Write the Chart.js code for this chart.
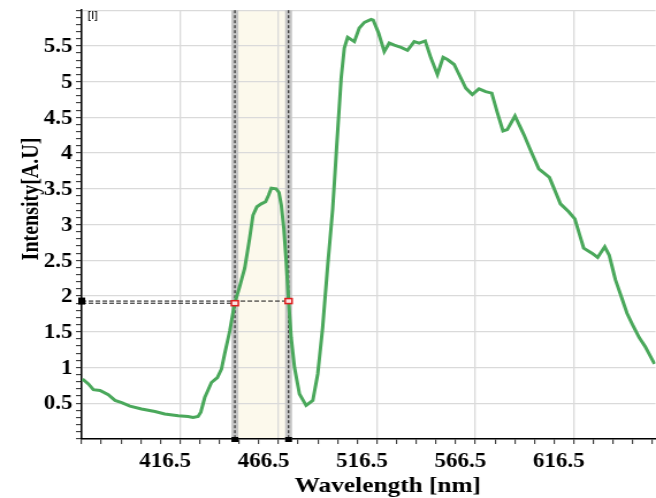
<!DOCTYPE html>
<html>
<head>
<meta charset="utf-8">
<script src="https://cdn.jsdelivr.net/npm/chart.js@4.4.1/dist/chart.umd.min.js"></script>
<style>
    html, body { margin: 0; padding: 0; background: #fff; overflow: hidden; }
    /* the source picture is stretched sideways, so the chart is drawn narrow and widened */
    #wrap { width: 570px; height: 498px; transform: scaleX(1.1509); transform-origin: 0 0; }
</style>
</head>
<body>
<div id="wrap"><canvas id="spectrumChart" width="570" height="498"></canvas></div>
<script>
// Spectrum
const wavelength = [366.9, 369.9, 372.4, 375.8, 380.0, 383.4, 386.8, 391.0, 396.9, 403.7,
    408.7, 415.5, 420.5, 423.1, 425.6, 427.0, 429.0, 432.4, 435.4, 437.5,
    439.1, 441.7, 444.2, 446.7, 449.3, 451.8, 453.5, 455.5, 457.7, 459.9,
    461.4, 462.8, 465.3, 466.7, 467.9, 469.2, 470.4, 471.6, 472.9, 474.6,
    477.1, 480.5, 483.9, 486.4, 488.9, 491.5, 494.0, 495.2, 496.1, 498.3,
    499.9, 501.6, 505.0, 507.5, 510.1, 513.5, 514.6, 517.3, 520.2, 522.7,
    525.3, 528.7, 532.0, 535.4, 537.9, 541.0, 543.9, 547.2, 550.1, 552.3,
    555.7, 558.2, 561.6, 564.9, 568.3, 571.7, 574.8, 577.6, 580.5, 582.7,
    586.6, 591.1, 595.0, 598.7, 604.1, 609.7, 613.9, 617.0, 621.5, 625.7,
    628.6, 632.2, 634.5, 637.6, 640.9, 643.5, 646.3, 649.7, 652.8, 657.5];
const intensity = [0.84, 0.77, 0.69, 0.68, 0.62, 0.54, 0.51, 0.46, 0.42, 0.385,
    0.35, 0.325, 0.315, 0.30, 0.315, 0.375, 0.58, 0.79, 0.86, 0.98,
    1.19, 1.51, 1.90, 2.13, 2.39, 2.81, 3.13, 3.25, 3.29, 3.32,
    3.41, 3.51, 3.50, 3.45, 3.27, 2.94, 2.48, 1.93, 1.42, 1.00,
    0.63, 0.47, 0.54, 0.91, 1.56, 2.44, 3.22, 3.73, 4.13, 5.05,
    5.47, 5.62, 5.56, 5.75, 5.83, 5.87, 5.86, 5.68, 5.42, 5.54,
    5.51, 5.48, 5.44, 5.56, 5.54, 5.57, 5.33, 5.10, 5.34, 5.31,
    5.24, 5.10, 4.91, 4.82, 4.90, 4.86, 4.84, 4.57, 4.31, 4.33,
    4.52, 4.26, 4.01, 3.78, 3.66, 3.29, 3.18, 3.08, 2.67, 2.60,
    2.54, 2.69, 2.57, 2.23, 1.97, 1.76, 1.60, 1.42, 1.29, 1.05];

// Axis ticks: minor every 10 nm / 0.1, labels on the majors
const xTicks = [366.5, 376.5, 386.5, 396.5, 406.5, 416.5, 426.5, 436.5, 446.5, 456.5,
    466.5, 476.5, 486.5, 496.5, 506.5, 516.5, 526.5, 536.5, 546.5, 556.5,
    566.5, 576.5, 586.5, 596.5, 606.5, 616.5, 626.5, 636.5, 646.5, 656.5];
const xLabels = [416.5, 466.5, 516.5, 566.5, 616.5];
const yTicks = [];
for (let k = 0; k <= 60; k++) yTicks.push(k / 10);
const yLabels = [0.5, 1, 1.5, 2, 2.5, 3, 3.5, 4, 4.5, 5, 5.5];

// Cursors and their crossing levels
const cursorLeft = 444.3;
const cursorRight = 471.6;
const levelLeft = 1.90;
const levelRight = 1.93;

const LABEL_FONT = "bold 20px 'Liberation Serif', 'Times New Roman', serif";
const TITLE_FONT = "bold 22px 'Liberation Serif', 'Times New Roman', serif";

const isXMajor = v => Math.abs(((v - 366.5) / 10) % 5) < 0.01;
const isYMajor = v => Math.abs((v * 10) % 5) < 0.01;

const cursorPlugin = {
    id: 'cursors',
    beforeDraw(chart) {
        const { ctx, chartArea: a, scales: { x } } = chart;
        const xl = x.getPixelForValue(cursorLeft);
        const xr = x.getPixelForValue(cursorRight);
        ctx.save();
        ctx.fillStyle = '#fcf9ec';
        ctx.fillRect(xl, a.top, xr - xl, a.bottom - a.top);
        ctx.restore();
    },
    beforeDatasetsDraw(chart) {
        const { ctx, chartArea: a, scales: { x, y } } = chart;
        const xl = x.getPixelForValue(cursorLeft);
        const xr = x.getPixelForValue(cursorRight);
        ctx.save();
        // gray bands with dashed centre lines
        [xl, xr].forEach(px => {
            ctx.fillStyle = '#c6c6c6';
            ctx.fillRect(px - 3, a.top, 6, a.bottom - a.top);
            ctx.strokeStyle = '#111';
            ctx.lineWidth = 1;
            ctx.setLineDash([3, 2]);
            ctx.beginPath();
            ctx.moveTo(px, a.top);
            ctx.lineTo(px, a.bottom);
            ctx.stroke();
        });
        // horizontal level lines
        ctx.setLineDash([4, 2]);
        ctx.beginPath();
        ctx.moveTo(a.left, y.getPixelForValue(levelRight));
        ctx.lineTo(xr, y.getPixelForValue(levelRight));
        ctx.moveTo(a.left, y.getPixelForValue(levelLeft));
        ctx.lineTo(xl, y.getPixelForValue(levelLeft));
        ctx.stroke();
        ctx.restore();
    },
    afterDatasetsDraw(chart) {
        const { ctx, chartArea: a, scales: { x, y } } = chart;
        const xl = x.getPixelForValue(cursorLeft);
        const xr = x.getPixelForValue(cursorRight);
        ctx.save();
        // red crossing markers
        ctx.fillStyle = '#fbe4e4';
        ctx.strokeStyle = '#dd1f1f';
        ctx.lineWidth = 1.5;
        [[xl, levelLeft], [xr, levelRight]].forEach(([px, v]) => {
            const py = y.getPixelForValue(v);
            ctx.fillRect(px - 3, py - 2.5, 6, 5);
            ctx.strokeRect(px - 3, py - 2.5, 6, 5);
        });
        // black handles on the axes
        ctx.fillStyle = '#000';
        ctx.fillRect(a.left - 3, y.getPixelForValue(levelRight) - 3.5, 6, 7);
        [xl, xr].forEach(px => ctx.fillRect(px - 3, a.bottom - 2, 6, 5));
        ctx.restore();
    },
    afterDraw(chart) {
        const { ctx, chartArea: a, scales: { x, y } } = chart;
        ctx.save();
        ctx.fillStyle = '#000';
        ctx.font = "11px 'Liberation Sans', Arial, sans-serif";
        ctx.textAlign = 'left';
        ctx.textBaseline = 'alphabetic';
        ctx.fillText('[I]', 76, 19);

        // tick labels (serif bold, placed by the scales; the source sets them a bit left of the tick)
        ctx.font = LABEL_FONT;
        ctx.textAlign = 'center';
        xLabels.forEach(v => ctx.fillText(v.toFixed(1), x.getPixelForValue(v) - 13, 467));
        ctx.textAlign = 'right';
        ctx.textBaseline = 'middle';
        yLabels.forEach(v => ctx.fillText(String(v), a.left - 8, y.getPixelForValue(v) + 1));

        ctx.textBaseline = 'alphabetic';
        ctx.textAlign = 'left';
        ctx.font = TITLE_FONT;
        ctx.fillText('Wavelength [nm]', 256, 492);

        ctx.font = LABEL_FONT;
        ctx.translate(33, 199);
        ctx.rotate(-Math.PI / 2);
        ctx.textAlign = 'center';
        ctx.fillText('Intensity[A.U]', 0, 0);
        ctx.restore();
    }
};

const ctx = document.getElementById('spectrumChart');
new Chart(ctx, {
    type: 'line',
    data: {
        datasets: [{
            data: wavelength.map((w, i) => ({ x: w, y: intensity[i] })),
            borderColor: '#4aa85b',
            borderWidth: 3,
            pointRadius: 0,
            tension: 0,
            fill: false
        }]
    },
    options: {
        responsive: false,
        animation: false,
        devicePixelRatio: 1,
        layout: { padding: { top: 7, right: 0, left: 0, bottom: 0 } },
        plugins: { legend: { display: false }, tooltip: { enabled: false } },
        scales: {
            x: {
                type: 'linear',
                min: 366.5,
                max: 658,
                afterBuildTicks: scale => { scale.ticks = xTicks.map(v => ({ value: v })); },
                afterFit: scale => { scale.height = 59; },
                grid: {
                    color: c => (c.tick && isXMajor(c.tick.value) ? '#dadada' : 'rgba(0,0,0,0)'),
                    lineWidth: 1.3,
                    tickColor: '#222',
                    tickWidth: 1,
                    tickLength: 5
                },
                border: { color: '#000', width: 1.5 },
                ticks: { autoSkip: false, maxRotation: 0, callback: () => '' }
            },
            y: {
                type: 'linear',
                min: 0,
                max: 6,
                afterBuildTicks: scale => { scale.ticks = yTicks.map(v => ({ value: v })); },
                afterFit: scale => { scale.width = 71; },
                grid: {
                    color: c => (c.tick && isYMajor(c.tick.value) ? '#dadada' : 'rgba(0,0,0,0)'),
                    lineWidth: 1.3,
                    tickColor: '#222',
                    tickWidth: 1,
                    tickLength: 5
                },
                border: { color: '#000', width: 1.5 },
                ticks: { autoSkip: false, callback: () => '' }
            }
        }
    },
    plugins: [cursorPlugin]
});
</script>
</body>
</html>
